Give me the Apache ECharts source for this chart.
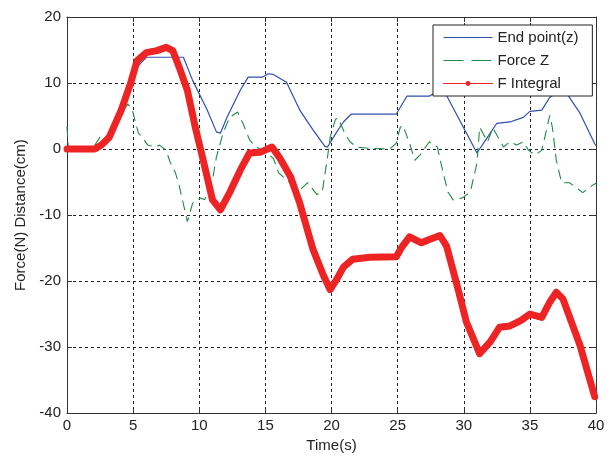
<!DOCTYPE html>
<html>
<head>
<meta charset="utf-8">
<script src="https://cdn.jsdelivr.net/npm/echarts@6/dist/echarts.min.js"></script>
<style>
  html, body { margin: 0; padding: 0; background: #fff; }
  #chart { width: 616px; height: 458px; }
</style>
</head>
<body>
<div id="chart"></div>
<script>
// Axis ranges and tick spacing
const xTicks = [0, 5, 10, 15, 20, 25, 30, 35, 40];
const yTicks = [-40, -30, -20, -10, 0, 10, 20];

// End point(z): [time (s), distance (cm)]
const endPoint = [
  [0, 0], [2, 0], [3, 1.8], [4, 5.5], [4.8, 9.8], [5.3, 12.4], [6, 13.9], [8.8, 13.9],
  [9.5, 10.4], [10.6, 5.9], [11.3, 2.6], [11.6, 2.4], [12.1, 4.8], [13.1, 8.9], [13.7, 10.9],
  [14.8, 10.9], [15.2, 11.4], [15.6, 11.3], [16.6, 10.1], [17.6, 5.9], [18.6, 2.9],
  [19.5, 0.4], [19.7, 0.3], [20.4, 2.6], [20.9, 4.1], [21.5, 5.3], [24.9, 5.3], [25.7, 8.0],
  [27.4, 8.0], [28.2, 9.0], [28.7, 8.1], [30, 3.2], [31, -0.6], [31.6, 1.2], [32.5, 3.9],
  [33.5, 4.1], [34.5, 4.8], [35, 5.7], [35.9, 5.9], [36.5, 7.8], [37.2, 8.8], [37.8, 8.4],
  [38.8, 5.4], [39.9, 0.8], [40, 0.5]
];

// Force Z: [time (s), force (N)]
const forceZ = [
  [0, 3.4], [0.1, 0.3], [0.5, 0], [2, 0.3], [2.5, 1.8], [3.2, 2.2], [3.8, 4], [4.3, 6],
  [4.6, 6.8], [4.9, 6.2], [5.4, 2.4], [5.7, 1.8], [6.1, 0.6], [6.7, 0.3], [7, 0.6],
  [7.5, -0.2], [7.8, -2], [8.2, -3.6], [8.5, -5.7], [8.9, -9.2], [9.1, -11], [9.5, -8.2],
  [10.1, -7.4], [10.4, -7.7], [11, -4.7], [11.3, -1.2], [11.8, 2.4], [12.3, 4.8], [12.9, 5.6],
  [13.3, 3.9], [13.8, 1.4], [14.3, 0.3], [14.8, -0.2], [15.6, -1.4], [16, -3.6], [16.6, -4.7],
  [17.6, -6.2], [18.2, -5.1], [18.9, -6.9], [19.3, -6.5], [19.7, -1.2], [19.9, 1.8],
  [20.3, 4.5], [20.5, 4.7], [21, 2.4], [21.4, 1.1], [21.9, 0.3], [22.9, 0.1], [24.4, 0],
  [24.9, 0.9], [25.2, 3.3], [25.4, 3.6], [25.9, 0.9], [26.3, -1.7], [26.7, -0.9], [27.4, 1.1],
  [28, 0.3], [28.4, -3.2], [28.8, -6.5], [29.2, -7.7], [29.9, -7.4], [30.5, -6.5], [31, -2.1],
  [31.2, 3.3], [31.8, 1.1], [32.2, 3.2], [32.7, 1.4], [33, 0.3], [33.5, 1.1], [34, 0.6],
  [34.5, 1.1], [34.9, -0.2], [35.4, -0.9], [35.9, -0.2], [36.3, 3.3], [36.5, 5.1], [36.7, 3.3],
  [37, -1.7], [37.4, -5.1], [38, -5.1], [39, -6.6], [39.8, -5.4], [40, -5.2]
];

// F Integral: [time (s), value]
const fIntegral = [
  [0, 0], [2.1, 0], [2.6, 0.6], [3.2, 1.8], [4.1, 5.9], [4.8, 9.9], [5.3, 13.4], [6, 14.6],
  [6.8, 14.9], [7.5, 15.4], [8, 14.9], [8.5, 12.3], [9.1, 8.9], [9.7, 3.3], [10.3, -1.7],
  [11, -7.7], [11.6, -9.2], [12.3, -6.6], [13.1, -3.2], [13.8, -0.6], [14.6, -0.5], [15.5, 0.3],
  [16.1, -1.4], [16.9, -4.2], [17.6, -8.2], [18.6, -15.2], [19.4, -19.2], [19.9, -21.3],
  [20.4, -19.7], [20.9, -17.9], [21.6, -16.7], [22.9, -16.4], [24.9, -16.3], [25.3, -14.9],
  [25.9, -13.3], [26.8, -14.2], [27.4, -13.7], [28.2, -13.1], [28.7, -14.7], [29.5, -20.7],
  [30.2, -26.2], [31.2, -31], [32, -29.2], [32.7, -27], [33.5, -26.8], [34.3, -26], [35, -25],
  [35.9, -25.5], [36.5, -23.2], [37, -21.7], [37.5, -22.7], [38.8, -29.8], [39.9, -37.5]
];

const seriesNames = ['End point(z)', 'Force Z', 'F Integral'];
const seriesColors = ['#2f4fae', '#1f8a45', '#ee2424'];

const font = '"Liberation Sans", Arial, sans-serif';
const axisColor = '#333';
const textColor = '#222';

const chart = echarts.init(document.getElementById('chart'), null, { renderer: 'canvas' });

const xMin = xTicks[0], xMax = xTicks[xTicks.length - 1], xStep = xTicks[1] - xTicks[0];
const yMin = yTicks[0], yMax = yTicks[yTicks.length - 1], yStep = yTicks[1] - yTicks[0];

const baseX = {
  type: 'value', min: xMin, max: xMax, interval: xStep,
  axisLine: { show: true, onZero: false, lineStyle: { color: axisColor, width: 1 } },
  axisTick: { show: true, inside: true, length: 5, lineStyle: { color: axisColor } }
};
const baseY = {
  type: 'value', min: yMin, max: yMax, interval: yStep,
  axisLine: { show: true, onZero: false, lineStyle: { color: axisColor, width: 1 } },
  axisTick: { show: true, inside: true, length: 5, lineStyle: { color: axisColor } }
};

chart.setOption({
  animation: false,
  backgroundColor: '#fff',
  grid: { left: 67, top: 17, right: 20, bottom: 43, containLabel: false },
  legend: {
    orient: 'vertical',
    left: 433,
    top: 25,
    // plain lines for the first two entries, line with a small dot for the third
    data: [
      { name: seriesNames[0], itemStyle: { opacity: 0 },
        lineStyle: { color: seriesColors[0], width: 1, type: 'solid' } },
      { name: seriesNames[1], itemStyle: { opacity: 0 },
        lineStyle: { color: seriesColors[1], width: 1, type: [20, 8] } },
      { name: seriesNames[2],
        lineStyle: { color: seriesColors[2], width: 1, type: 'solid' } }
    ],
    backgroundColor: '#fff',
    borderColor: '#222',
    borderWidth: 1,
    borderRadius: 0,
    padding: [5, 14, 5, 10],
    itemWidth: 49,
    itemHeight: 6,
    itemGap: 8,
    textStyle: { fontFamily: font, fontSize: 15, color: textColor }
  },
  xAxis: [
    Object.assign({}, baseX, {
      position: 'bottom',
      name: 'Time(s)', nameLocation: 'middle', nameGap: 22,
      nameTextStyle: { fontFamily: font, fontSize: 15, color: textColor },
      axisLabel: { fontFamily: font, fontSize: 15, color: textColor, margin: 5 },
      splitLine: { show: true, lineStyle: { color: '#222', type: [3, 3], width: 1 } }
    }),
    Object.assign({}, baseX, {
      position: 'top',
      axisLabel: { show: false },
      splitLine: { show: false }
    })
  ],
  yAxis: [
    Object.assign({}, baseY, {
      position: 'left',
      name: 'Force(N) Distance(cm)', nameLocation: 'middle', nameGap: 38,
      nameTextStyle: { fontFamily: font, fontSize: 15, color: textColor },
      axisLabel: { fontFamily: font, fontSize: 15, color: textColor, margin: 6 },
      splitLine: { show: true, lineStyle: { color: '#222', type: [3, 3], width: 1 } }
    }),
    Object.assign({}, baseY, {
      position: 'right',
      axisLabel: { show: false },
      splitLine: { show: false }
    })
  ],
  series: [
    {
      name: seriesNames[0], type: 'line', data: endPoint,
      symbol: 'none', smooth: false, z: 2,
      lineStyle: { color: seriesColors[0], width: 1.2 },
      itemStyle: { color: seriesColors[0] }
    },
    {
      name: seriesNames[1], type: 'line', data: forceZ,
      symbol: 'none', smooth: false, z: 3,
      lineStyle: { color: seriesColors[1], width: 1.1, type: [10, 6] },
      itemStyle: { color: seriesColors[1] }
    },
    {
      name: seriesNames[2], type: 'line', data: fIntegral,
      symbol: 'circle', symbolSize: 5, showSymbol: false, smooth: false, z: 4,
      lineStyle: { color: seriesColors[2], width: 7, join: 'round', cap: 'round' },
      itemStyle: { color: seriesColors[2] }
    }
  ]
});
</script>
</body>
</html>
